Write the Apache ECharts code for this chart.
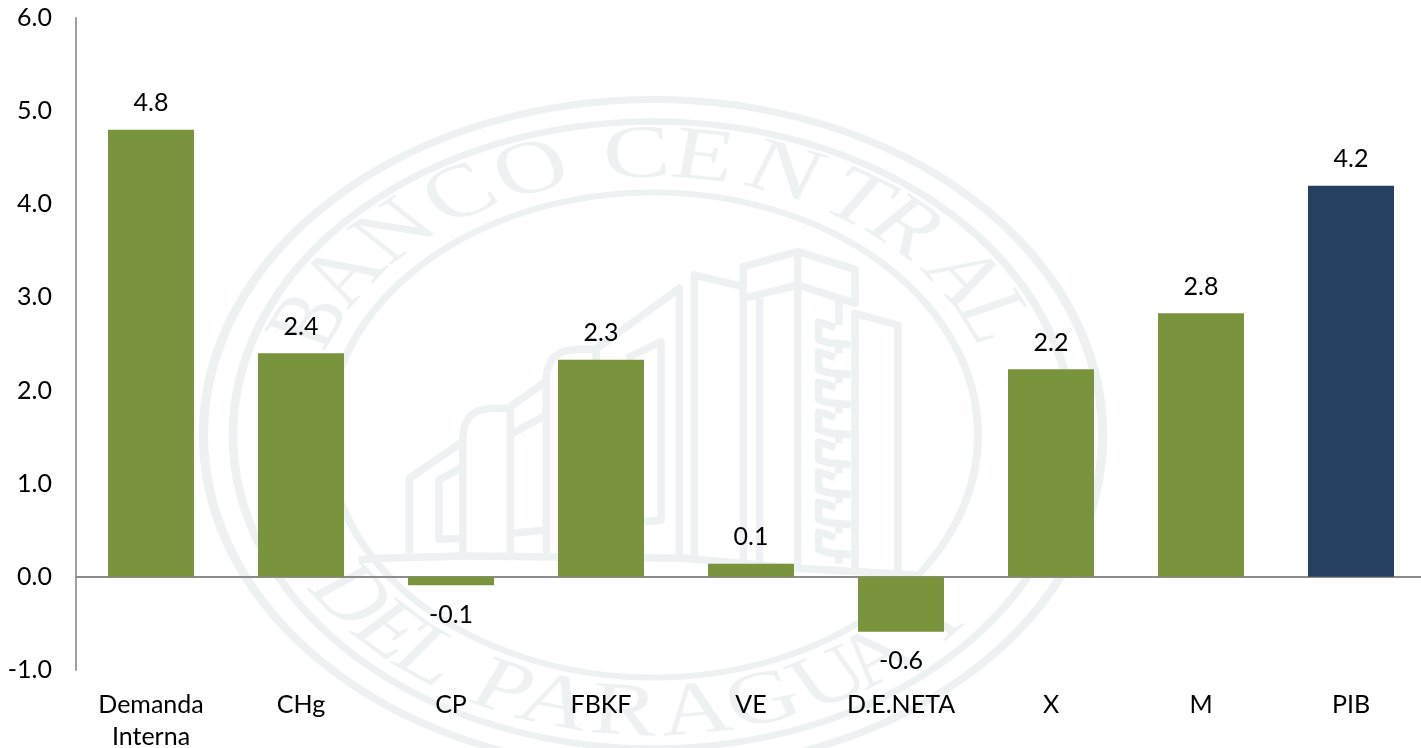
<!DOCTYPE html>
<html>
<head>
<meta charset="utf-8">
<style>html,body{margin:0;padding:0;background:#fff}#c{width:1421px;height:748px}</style>
<script src="https://cdn.jsdelivr.net/npm/echarts@6/dist/echarts.min.js"></script>
</head>
<body>
<div id="c"></div>
<script>
var categories = ['Demanda\nInterna','CHg','CP','FBKF','VE','D.E.NETA','X','M','PIB'];
var values = [4.8,2.4,-0.09,2.33,0.14,-0.59,2.23,2.83,4.2];
var barColors = ['#7a933d','#7a933d','#7a933d','#7a933d','#7a933d','#7a933d','#7a933d','#7a933d','#264061'];
var yTicks = {min:-1,max:6,interval:1};
var sealTop = [['B',-66],['A',-55.3],['N',-43.4],['C',-30.9],['O',-18.9],['C',-2.5],['E',7.7],['N',20.5],['T',33],['R',42.4],['A',55.8],['L',65.2]];
var sealBottom = [['D',-54.5],['E',-45.1],['L',-36.9],['P',-23.9],['A',-15.2],['R',-4.4],['A',6.6],['G',17.2],['U',28.4],['A',36.9],['Y',48.7]];

var WM = '#edf1f2', FONT = 'Lato, "Open Sans", sans-serif';
var els = [];
[335.5,313.5,242.5].forEach(function(r,i){ els.push({type:'circle',shape:{cx:0,cy:0,r:r},style:{fill:'none',stroke:WM,lineWidth:[7,6.5,6][i]},silent:true}); });
sealTop.forEach(function(d){ var a=d[1]*Math.PI/180,r=278;
  els.push({type:'text',x:r*Math.sin(a),y:-r*Math.cos(a),rotation:-a,silent:true,style:{text:d[0],fill:WM,font:'75px "Liberation Serif"',align:'center',verticalAlign:'middle'}});
});
sealBottom.forEach(function(d){ var a=d[1]*Math.PI/180,r=280;
  els.push({type:'text',x:r*Math.sin(a),y:r*Math.cos(a),rotation:a,silent:true,style:{text:d[0],fill:WM,font:'75px "Liberation Serif"',align:'center',verticalAlign:'middle'}});
});
function P(x,y){return [380+x/2.8,230+y/3];}
var lines = [
 [[82,970],[82,745],[232,635]],
 [[232,710],[165,750],[165,928],[232,925]],
 [[232,970],[232,620],[236,590],[250,560],[275,542],[310,535],[365,535],[365,970]],
 [[365,530],[465,455],[468,420],[482,385],[510,365],[550,358],[605,358],[605,392]],
 [[372,610],[465,555]],[[372,910],[465,900]],[[465,450],[465,975]],
 [[605,358],[838,175],[838,985]],
 [[690,385],[787,335],[787,870],[740,875]],
 [[880,985],[880,135],[1015,170]],
 [[1017,1000],[1017,110],[1170,65],[1330,118],[1330,220],[1170,165],[1017,205]],
 [[1170,65],[1170,1010]],[[1063,205],[1063,1000]],[[1285,205],[1285,285]],
 [[1330,1020],[1330,250],[1450,285],[1450,1030]],
 [[-60,990],[0,985],[240,978],[850,985],[1170,1015],[1500,1035]]
];
[0,90,180,270,360,450,540,630].forEach(function(o){
  lines.push([[1275,292+o],[1228,276+o],[1228,328+o],[1255,338+o],[1318,344+o]]);
  lines.push([[1285,346+o],[1285,370+o]]);
});
var bldg = lines.map(function(l){return {type:'polyline',silent:true,shape:{points:l.map(function(p){return P(p[0],p[1]);})},style:{fill:'none',stroke:WM,lineWidth:7.5,lineJoin:'round'}};});

var chart = echarts.init(document.getElementById('c'),null,{renderer:'canvas'});
chart.setOption({
  animation:false,
  backgroundColor:'#fff',
  graphic:{elements:[
    {type:'group',x:653,y:435,scaleX:1.34,scaleY:1,z:-10,silent:true,children:els},
    {type:'group',z:-10,silent:true,children:bldg}
  ]},
  grid:{left:76,top:18,width:1350,height:652,containLabel:false,outerBoundsMode:'none'},
  xAxis:[
   {type:'category',position:'bottom',data:categories,axisLine:{onZero:true,lineStyle:{color:'#8c8c8c',width:2}},axisTick:{show:false},axisLabel:{show:false}},
   {type:'category',position:'bottom',data:categories,axisLine:{show:false,onZero:false},axisTick:{show:false},
    axisLabel:{show:true,interval:0,color:'#000',fontFamily:FONT,fontSize:25,lineHeight:32,margin:19}}
  ],
  yAxis:{type:'value',min:yTicks.min,max:yTicks.max,interval:yTicks.interval,splitLine:{show:false},axisTick:{show:false},
    axisLine:{show:true,onZero:false,lineStyle:{color:'#a0a0a0',width:2}},
    axisLabel:{color:'#000',fontFamily:FONT,fontSize:25,margin:24,formatter:function(v){return v.toFixed(1);}}},
  series:[{type:'bar',barWidth:86,xAxisIndex:0,
    data:values.map(function(v,i){return {value:v,itemStyle:{color:barColors[i]},label:{distance:v<0?17:14}};}),
    label:{show:true,position:'outside',color:'#000',fontFamily:FONT,fontSize:25,formatter:function(p){return p.value.toFixed(1);}}}]
});
</script>
</body>
</html>
